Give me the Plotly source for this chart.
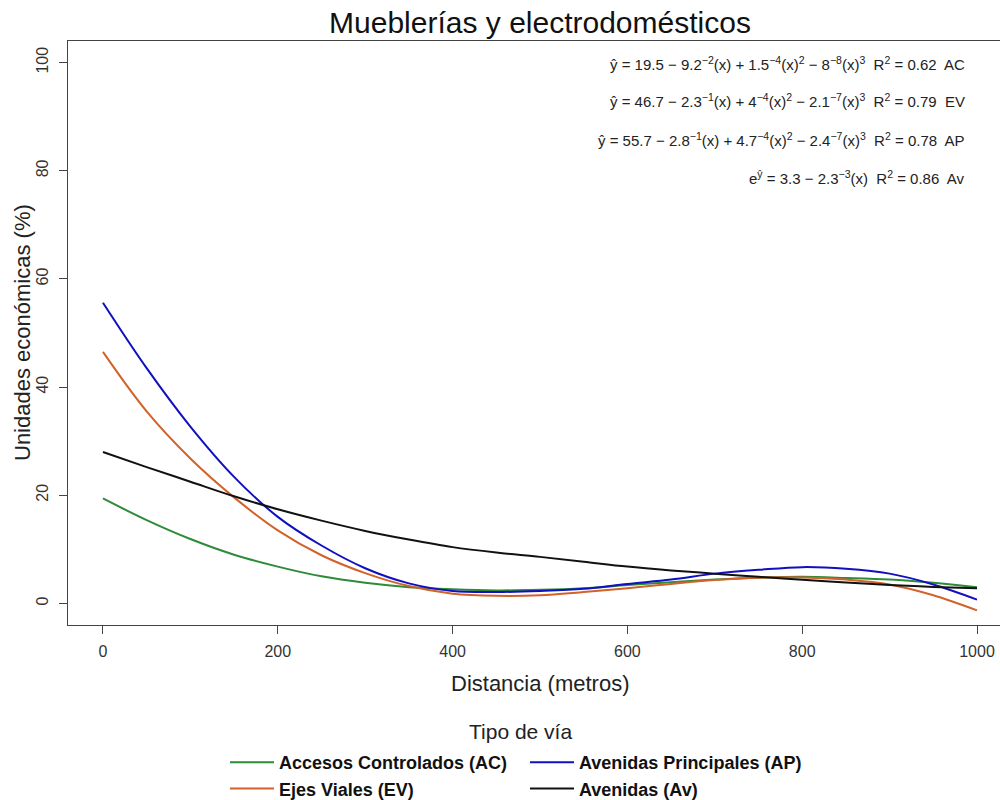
import plotly.graph_objects as go

# Distance from the road (metres) at which each fitted curve is sampled
distancia = [0, 50, 100, 150, 200, 250, 300, 350, 400, 450, 500,
             550, 600, 650, 700, 750, 800, 850, 900, 950, 1000]

# Fitted share of economic units (%) per road type
acc_controlados = [19.4, 15.4, 11.9, 9.0, 6.8, 5.0, 3.8, 3.0, 2.6, 2.4, 2.5,
                   2.8, 3.4, 3.9, 4.4, 4.75, 4.9, 4.7, 4.4, 3.8, 3.0]
ejes_viales = [46.5, 35.5, 26.8, 19.6, 13.5, 8.9, 5.6, 3.2, 1.8, 1.4, 1.5,
               2.1, 2.8, 3.6, 4.3, 4.75, 4.8, 4.4, 3.5, 1.5, -1.3]
av_principales = [55.6, 43.5, 32.7, 23.4, 16.0, 10.7, 6.5, 3.7, 2.3, 2.1, 2.3,
                  2.7, 3.6, 4.4, 5.5, 6.2, 6.7, 6.4, 5.5, 3.5, 0.7]
avenidas = [28.0, 25.2, 22.5, 19.8, 17.4, 15.3, 13.4, 11.8, 10.4, 9.4, 8.6,
            7.7, 6.8, 6.1, 5.5, 4.9, 4.35, 3.85, 3.4, 3.05, 2.8]

series_names = ["Accesos Controlados (AC)", "Ejes Viales (EV)",
                "Avenidas Principales (AP)", "Avenidas (Av)"]
series_values = [acc_controlados, ejes_viales, av_principales, avenidas]
series_colors = ["#2E8B3A", "#D2612A", "#1010C0", "#111111"]
series_legend = ["legend", "legend", "legend2", "legend2"]

x_ticks = [0, 200, 400, 600, 800, 1000]
y_ticks = [0, 20, 40, 60, 80, 100]

ecuaciones = [
    "ŷ = 19.5 − 9.2<sup>−2</sup>(x) + 1.5<sup>−4</sup>(x)<sup>2</sup> − 8<sup>−8</sup>(x)<sup>3</sup>  R<sup>2</sup> = 0.62  AC",
    "ŷ = 46.7 − 2.3<sup>−1</sup>(x) + 4<sup>−4</sup>(x)<sup>2</sup> − 2.1<sup>−7</sup>(x)<sup>3</sup>  R<sup>2</sup> = 0.79  EV",
    "ŷ = 55.7 − 2.8<sup>−1</sup>(x) + 4.7<sup>−4</sup>(x)<sup>2</sup> − 2.4<sup>−7</sup>(x)<sup>3</sup>  R<sup>2</sup> = 0.78  AP",
    "e<sup>ŷ</sup> = 3.3 − 2.3<sup>−3</sup>(x)  R<sup>2</sup> = 0.86  Av",
]

FONT = "Liberation Sans, Arial, sans-serif"

# Plot area in pixels: left 68, right 1000, top 41, bottom 625
PL, PR, PT, PB = 68, 1000, 41, 625
W, H = 1000, 800


def px_x(px):
    return (px - PL) / (PR - PL)


def px_y(py):
    return (PB - py) / (PB - PT)


ecuacion_y = [px_y(p) for p in (63, 101, 139, 177)]

fig = go.Figure()
for name, vals, col, leg in zip(series_names, series_values, series_colors, series_legend):
    fig.add_trace(go.Scatter(
        x=distancia, y=vals, mode="lines", name=name, legend=leg,
        line=dict(color=col, width=2, shape="spline", smoothing=1.0),
    ))

annotations = [
    dict(text=t, x=px_x(967), y=yy, xref="paper", yref="paper",
         xanchor="right", yanchor="middle", showarrow=False,
         font=dict(family=FONT, size=15, color="#222"))
    for t, yy in zip(ecuaciones, ecuacion_y)
]
annotations += [
    dict(text="Distancia (metros)", x=px_x(540), y=px_y(683), xref="paper", yref="paper",
         xanchor="center", yanchor="middle", showarrow=False,
         font=dict(family=FONT, size=22, color="#222")),
    dict(text="Unidades económicas (%)", x=px_x(22), y=0.5, xref="paper", yref="paper",
         xanchor="center", yanchor="middle", textangle=-90, showarrow=False,
         font=dict(family=FONT, size=22, color="#222")),
    dict(text="Tipo de vía", x=px_x(520), y=px_y(731),
         xref="paper", yref="paper", xanchor="center", yanchor="middle",
         showarrow=False, font=dict(family=FONT, size=21, color="#222")),
]

legend_style = dict(
    orientation="v", xref="paper", yref="container", yanchor="top", xanchor="left",
    y=1 - 744 / H,
    font=dict(family=FONT, size=18, color="#111", weight="bold"),
    tracegroupgap=0, itemwidth=44, bgcolor="rgba(0,0,0,0)",
)

fig.update_layout(
    width=W, height=H,
    margin=dict(l=PL, r=0, t=PT, b=H - PB),
    paper_bgcolor="white", plot_bgcolor="white",
    title=dict(text="Mueblerías y electrodomésticos", x=px_x(540), xref="paper",
               y=1 - 22 / H, yref="container", xanchor="center", yanchor="middle",
               font=dict(family=FONT, size=30, color="#111")),
    xaxis=dict(range=[-40, 1026.3], tickvals=x_ticks, ticks="outside", ticklen=8,
               tickcolor="#444", showline=True, linecolor="#444", linewidth=1,
               mirror=True, showgrid=False, zeroline=False, ticklabelstandoff=4,
               tickfont=dict(family=FONT, size=16, color="#333")),
    yaxis=dict(range=[-4, 104], tickvals=y_ticks, ticks="outside", ticklen=8,
               tickcolor="#444", showline=True, linecolor="#444", linewidth=1,
               showgrid=False, zeroline=False, tickangle=-90, ticklabelstandoff=5,
               tickfont=dict(family=FONT, size=16, color="#333")),
    legend=dict(x=px_x(225), **legend_style),
    legend2=dict(x=px_x(525), **legend_style),
    annotations=annotations,
    showlegend=True,
)

fig.write_html("out.html")
